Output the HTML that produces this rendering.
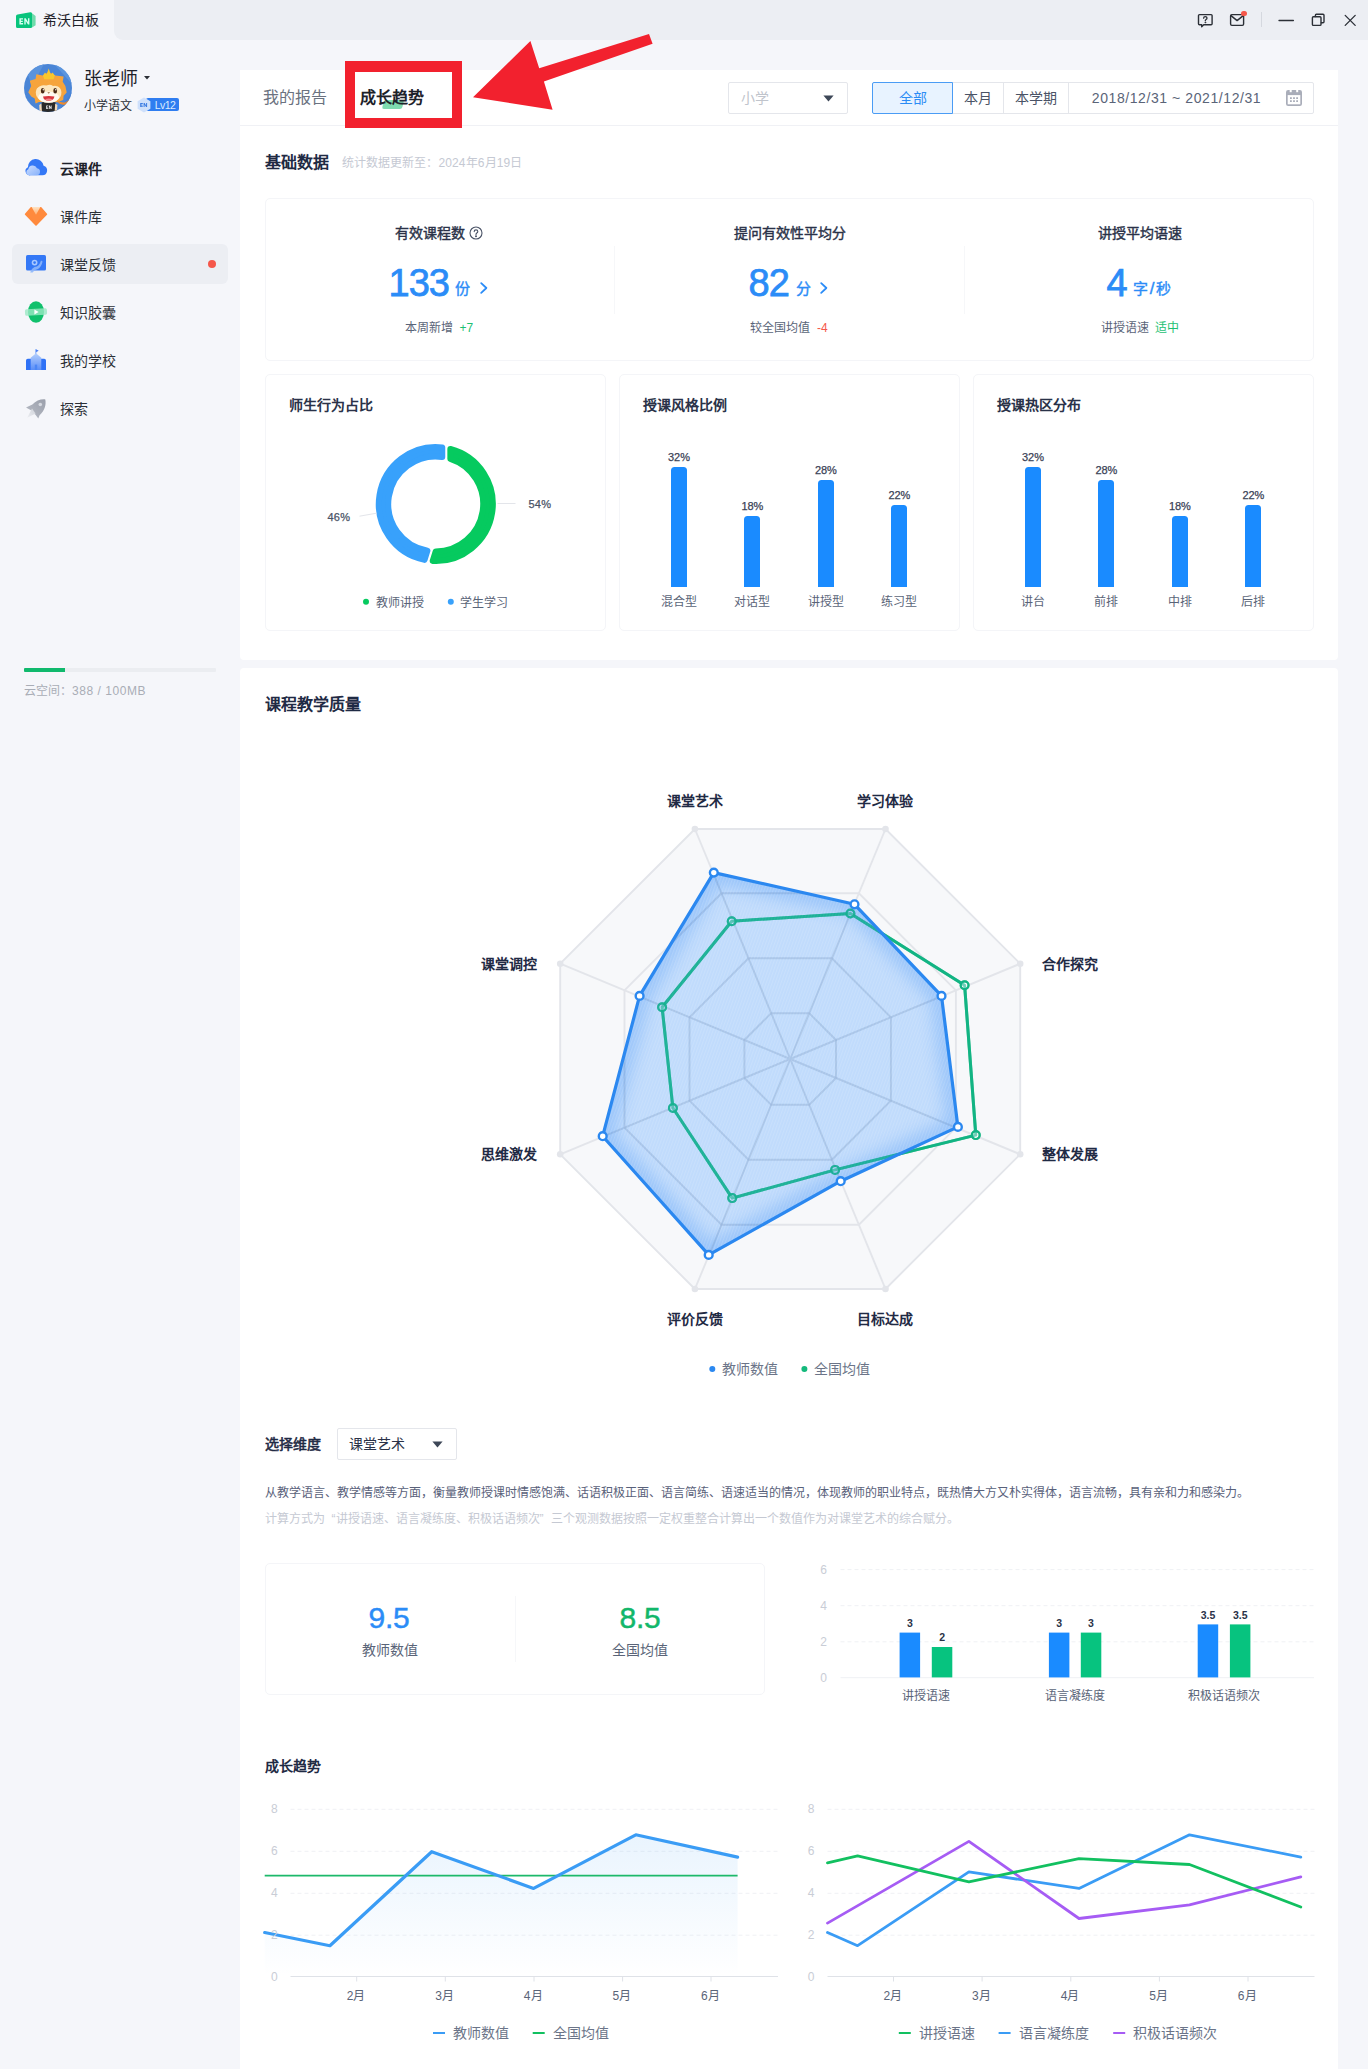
<!DOCTYPE html>
<html lang="zh-CN"><head><meta charset="utf-8"><title>希沃白板 - 成长趋势</title>
<style>
html,body{margin:0;padding:0}
body{width:1368px;height:2069px;position:relative;overflow:hidden;background:#f5f6fa;font-family:"Liberation Sans",sans-serif;color:#1f2329}
.t{position:absolute;white-space:nowrap;margin:0}
.b{position:absolute;box-sizing:border-box}
svg{position:absolute;overflow:visible}
.card{position:absolute;box-sizing:border-box;background:#fff;border:1px solid #f4f5f8;border-radius:5px}
.q{display:inline-block;width:11px}
.m{-webkit-text-stroke:.4px currentColor}
.n{-webkit-text-stroke:.75px currentColor}
</style></head><body>

<div class="b" style="left:0px;top:0px;width:1368px;height:40px;background:#eceef3"></div>
<div class="b" style="left:0px;top:0px;width:114px;height:40px;background:#f5f6fa"></div>
<div class="b" style="left:114px;top:30px;width:10px;height:10px;background:#f5f6fa"></div>
<div class="b" style="left:114px;top:20px;width:20px;height:20px;background:#eceef3;border-radius:0 0 0 9px"></div>
<svg style="left:16px;top:11px" width="20" height="18" viewBox="0 0 20 18">
<path d="M0 5.2Q0 3.6 1.6 3.4L14.2 1.2Q15.6 1 16 2.2V16Q16 17 15 17H1.5Q0 17 0 15.5Z" fill="#08c47c"/>
<path d="M16 2.2L19.6 5V14.2L16 16.4Z" fill="#6fdbab"/>
<path d="M3.4 7.3h3.6v1.3H4.9v1.1h1.9v1.2H4.9v1.2h2.2v1.3H3.4zM8.3 7.3h1.4l2.3 3.6V7.3h1.4v6.1h-1.4L9.7 9.9v3.5H8.3z" fill="#d6fff0"/>
</svg>
<div class="t" style="left:43.0px;top:9.0px;font-size:14px;line-height:22px;color:#1d2129;font-weight:500;">希沃白板</div>
<svg style="left:1190px;top:8px" width="172" height="24" viewBox="1190 8 172 24" fill="none" stroke="#2b2f36" stroke-width="1.4" stroke-linejoin="round" stroke-linecap="round">
<path d="M1199.5 14.6h11.6q1 0 1 1v8.2q0 1-1 1h-7.4l-2 2v-2h-2.2q-1 0-1-1v-8.2q0-1 1-1z"/>
<path d="M1203.6 18.2q0-1.5 1.7-1.5t1.7 1.4q0 .9-.9 1.4-.8.5-.8 1.3" stroke-width="1.3"/><circle cx="1205.3" cy="22.6" r=".5" fill="#2b2f36" stroke-width=".6"/>
<rect x="1230.6" y="14.6" width="13" height="10.8" rx="1.3"/><path d="M1231 15.6l6.1 5 6.1-5"/>
<path d="M1279 20.5h14.4" stroke-width="1.3"/>
<rect x="1312.4" y="16.8" width="8.6" height="8.6" rx="1"/><path d="M1315.4 16.6v-1.4q0-1 1-1h6.6q1 0 1 1v6.6q0 1-1 1h-1.6"/>
<path d="M1345.2 15.4l10 10M1355.2 15.4l-10 10" stroke-width="1.3"/>
</svg>
<div class="b" style="left:1261px;top:12px;width:1px;height:15px;background:#d5d8df"></div>
<div class="b" style="left:1241.2px;top:10.5px;width:5.8px;height:5.8px;background:#f5574a;border-radius:50%"></div>
<svg style="left:24px;top:64px" width="48" height="48" viewBox="0 0 48 48">
<defs><clipPath id="av"><circle cx="24" cy="24" r="24"/></clipPath></defs>
<g clip-path="url(#av)">
<rect width="48" height="48" fill="#4a85d6"/>
<path d="M0 0L20 0 8 22Z" fill="#5a93dd"/><path d="M30 0L48 0 48 20Z" fill="#5b95de"/><path d="M0 30L10 48 0 48Z" fill="#427cd0"/><path d="M48 28L48 48 34 48Z" fill="#447fd2"/>
<path d="M4.3 28.2L7.2 22.1 5.8 16.8 11.5 15 12.4 10.2 18.6 11.5 24.7 8 31.3 11.5 39.6 12.4 38.7 17.7 41.4 22.1 42.7 28.6 39.6 31.7 39.2 36.1 33.5 38.3 15 37.9 11.5 39.6 10.7 34.4 7.2 32.6Z" fill="#f6a43c"/>
<path d="M33 36.5Q38 39.5 42 38Q45 36.5 46 34L47 38Q43 41.5 38 40.5Q34 39.5 33 36.5Z" fill="#f08a2a"/>
<path d="M17.6 38.4Q24 36.4 31.6 38.4L32.6 48H16.6Z" fill="#2a2a2a"/>
<path d="M15.2 41l2.2-1.6.6 8.6h-2.4zM33.4 41l-2.2-1.6-.6 8.6h2.4z" fill="#f3d9b8"/>
<ellipse cx="24.6" cy="28.6" rx="12.8" ry="10.2" fill="#fde6bd"/>
<path d="M12 25Q13 17 24.6 17.4Q36.5 17.4 37.4 25Q33 20.6 29 22 26 19.6 22.5 21.6 17 20 12 25Z" fill="#f6a43c"/>
<ellipse cx="24.6" cy="33.2" rx="10.4" ry="5.6" fill="#fff9ef"/>
<path d="M19 11.6L21 8.6 22.6 10.6 24.7 4.6 26.8 10.6 28.6 8.6 30.8 11.6 29.6 15.2H20.2Z" fill="#f9c72c"/>
<ellipse cx="18.7" cy="26.7" rx="1.9" ry="2.7" fill="#4a2a14"/><ellipse cx="31.2" cy="26.7" rx="1.9" ry="2.7" fill="#4a2a14"/>
<circle cx="19.3" cy="25.7" r=".7" fill="#fff"/><circle cx="31.8" cy="25.7" r=".7" fill="#fff"/>
<path d="M23.4 28.2h2.6l-1.3 1.5z" fill="#9a6a38"/>
<path d="M19 32.4Q24.7 31.4 30.4 32.4Q29.6 36.8 24.7 36.8T19 32.4Z" fill="#d8353c"/>
<path d="M21 35.2Q24.7 33.8 28.4 35.2Q27 36.8 24.7 36.8T21 35.2Z" fill="#f4868a"/>
<path d="M22.2 41.6h2v.7h-1.2v.6h1v.7h-1v.6h1.2v.7h-2zM24.9 41.6h.8l1.1 1.9v-1.9h.8v3.3h-.8l-1.1-1.9v1.9h-.8z" fill="#eee"/>
</g></svg>
<div class="t" style="left:84.0px;top:65.5px;font-size:18px;line-height:26px;color:#1d2129;">张老师</div>
<svg style="left:143.5px;top:75.5px" width="6" height="4" viewBox="0 0 6 4"><path d="M0 0h6L3 3.6z" fill="#2b2f36"/></svg>
<div class="t" style="left:84.0px;top:95.5px;font-size:12px;line-height:20px;color:#2b2f36;">小学语文</div>
<div class="b" style="left:146px;top:98px;width:33px;height:13px;background:#2f7df0;border-radius:2px"></div>
<svg style="left:136px;top:97px" width="16" height="16" viewBox="0 0 16 16"><path d="M8 .6l6.4 3.7v7.4L8 15.4 1.6 11.7V4.3z" fill="#cfe0fb"/>
<path d="M4.2 6.1h2.6v.9H5.3v.7h1.3v.8H5.3v.7h1.5v.9H4.2zM7.6 6.1h1l1.5 2.3V6.1h1v4h-1L8.600 7.800v2.300h-1z" fill="#3a7be2"/></svg>
<div class="t" style="left:154.7px;top:98.9px;font-size:10.5px;line-height:13px;color:#dcecff;letter-spacing:-.55px;">Lv12</div>
<div class="b" style="left:12px;top:244px;width:216px;height:40px;background:#eceef3;border-radius:6px"></div>
<div class="t" style="left:60.0px;top:157.9px;font-size:14px;line-height:22px;color:#1d2129;font-weight:700;">云课件</div>
<div class="t" style="left:60.0px;top:206.0px;font-size:14px;line-height:22px;color:#2b2f36;">课件库</div>
<div class="t" style="left:60.0px;top:254.0px;font-size:14px;line-height:22px;color:#2b2f36;">课堂反馈</div>
<div class="t" style="left:60.0px;top:302.0px;font-size:14px;line-height:22px;color:#2b2f36;">知识胶囊</div>
<div class="t" style="left:60.0px;top:350.0px;font-size:14px;line-height:22px;color:#2b2f36;">我的学校</div>
<div class="t" style="left:60.0px;top:398.0px;font-size:14px;line-height:22px;color:#2b2f36;">探索</div>
<div class="b" style="left:208.3px;top:260px;width:8px;height:8px;background:#f5574a;border-radius:50%"></div>
<svg style="left:24px;top:155px" width="24" height="24" viewBox="0 0 24 24">
<defs><linearGradient id="cl1" x1="0" y1="0" x2="1" y2="1"><stop offset="0" stop-color="#d9e6ff"/><stop offset="1" stop-color="#8db6fb"/></linearGradient></defs>
<path d="M6.500 20.300H18.400A4.900 4.900 0 0 0 19.600 10.700 7.900 7.900 0 0 0 3.900 12.200 4.300 4.300 0 0 0 6.500 20.300Z" fill="#3478f6"/>
<path d="M5 20.300h7.500a3.600 3.600 0 0 0 .5-7.150 4.600 4.600 0 0 0-8.700 1A3.200 3.200 0 0 0 5 20.300z" fill="url(#cl1)" opacity=".92"/></svg>
<svg style="left:24px;top:204px" width="24" height="24" viewBox="0 0 24 24">
<path d="M7.200 3.700h9.600L22.400 10.300 12 21 1.600 10.300z" fill="#ff8a3d" stroke="#ff8a3d" stroke-width="1.600" stroke-linejoin="round"/>
<defs><linearGradient id="dm" x1="0" y1="0" x2="0" y2="1"><stop offset="0" stop-color="#ffe3c4"/><stop offset="1" stop-color="#ffb073"/></linearGradient></defs><path d="M7.600 3h8.800L12 10.800z" fill="url(#dm)"/></svg>
<svg style="left:24px;top:252px" width="24" height="24" viewBox="0 0 24 24">
<rect x="2" y="3" width="20" height="15.600" rx="1.6" fill="#3478f6"/>
<circle cx="10.600" cy="10.600" r="2.900" fill="#a8c8ff"/><circle cx="10.600" cy="10.600" r="1.300" fill="#3478f6"/>
<path d="M6.200 20.400Q8 15 12.800 14.600Q15.400 13.600 17 8.600L18.600 9.600Q17.400 15 14 17Q10 17.600 8.600 20.400Z" fill="#8db6fb" opacity=".9"/></svg>
<svg style="left:24px;top:300px" width="24" height="24" viewBox="0 0 24 24">
<ellipse cx="12" cy="12" rx="8" ry="10.800" fill="#10c06c"/>
<rect x="1" y="8.800" width="22" height="6.400" rx="1.600" fill="#9be8c4" opacity=".8" transform="rotate(-3 12 12)"/>
<path d="M10.400 9.600l4.200 2.400-4.200 2.400z" fill="#fff"/></svg>
<svg style="left:24px;top:348px" width="24" height="24" viewBox="0 0 24 24">
<defs><linearGradient id="sc" x1="0" y1="0" x2="0" y2="1"><stop offset="0" stop-color="#b4cffd"/><stop offset="1" stop-color="#5a8ef7"/></linearGradient></defs>
<path d="M11.900 1.200l2.800 1.500-2.800 1.500z" fill="#3f78f3"/><rect x="11.400" y="1.200" width=".9" height="5" fill="#6f9df8"/>
<path d="M2 12.600q0-1.800 1.800-1.800h3.400v11.200H2zM22 12.600q0-1.800-1.800-1.800H16.800v11.200H22z" fill="#2f72f6"/>
<path d="M6.700 22V9.800L12 5.300l5.300 4.500V22z" fill="url(#sc)"/>
<rect x="10.800" y="16.600" width="2.400" height="5.400" fill="#4b86f5"/></svg>
<svg style="left:24px;top:396px" width="24" height="24" viewBox="0 0 24 24">
<defs><linearGradient id="rk" x1="1" y1="0" x2="0" y2="1"><stop offset="0" stop-color="#9a9fab"/><stop offset="1" stop-color="#b9bdc6"/></linearGradient>
<linearGradient id="rf" x1="1" y1="0" x2="0" y2="1"><stop offset="0" stop-color="#cfd2d9"/><stop offset="1" stop-color="#eceef2"/></linearGradient></defs>
<path d="M21.300 3.400C22.400 9 20.500 14.500 15.600 19.200L14.300 22.400 11.300 18.400C9.500 17.600 8.200 16.200 7.400 14.400L2 11.400 8.400 8.600C12 4.600 16.500 3 21.300 3.400Z" fill="url(#rk)"/>
<path d="M8 12.600L3.200 21.800 11.600 17.400Z" fill="url(#rf)"/>
<circle cx="16.300" cy="8.500" r="1.800" fill="#d6d9e0"/></svg>
<div class="b" style="left:24px;top:668px;width:192px;height:4px;background:#ebedf1;border-radius:1px"></div>
<div class="b" style="left:24px;top:668px;width:41px;height:4px;background:#10b96d;border-radius:1px 0 0 1px"></div>
<div class="t" style="left:24.0px;top:681.0px;font-size:12px;line-height:20px;color:#a9adb6;">云空间：<span style="letter-spacing:.55px">388 / 100MB</span></div>
<div class="b" style="left:240px;top:70px;width:1098px;height:590px;background:#fff;border-radius:0 0 4px 4px"></div>
<div class="b" style="left:240px;top:125px;width:1098px;height:1px;background:#f0f1f5"></div>
<div class="t" style="left:263.3px;top:86.0px;font-size:16px;line-height:24px;color:#6b7280;">我的报告</div>
<div class="b" style="left:383px;top:100px;width:20px;height:9px;background:#7fdcb0;border-radius:2px;transform:skewX(-14deg)"></div>
<div class="t" style="left:360.3px;top:86.0px;font-size:16px;line-height:24px;color:#1d2129;font-weight:700;">成长趋势</div>
<div class="b" style="left:345px;top:61px;width:116.6px;height:66.8px;border:10.5px solid #f2212e;border-top-width:11px"></div>
<svg style="left:0;top:0" width="1368" height="140" viewBox="0 0 1368 140">
<path d="M473 97.200L530.400 41 539.200 68.200 649 34 652.600 43.700 543.900 81.400 552.600 109.800Z" fill="#f2212e"/></svg>
<div class="b" style="left:728px;top:82px;width:120px;height:32px;background:#fff;border:1px solid #e4e6eb;border-radius:2px"></div>
<div class="t" style="left:740.5px;top:87.0px;font-size:14px;line-height:22px;color:#c0c4cc;">小学</div>
<svg style="left:823px;top:95px" width="11" height="7" viewBox="0 0 11 7"><path d="M.4 .6h10.200L5.500 6.400z" fill="#3d4757"/></svg>
<div class="b" style="left:872px;top:82px;width:442px;height:32px;background:#fff;border:1px solid #e4e6eb;border-radius:2px"></div>
<div class="b" style="left:872px;top:82px;width:81px;height:32px;background:#e8f3ff;border:1px solid #4a9cf5;border-radius:2px 0 0 2px"></div>
<div class="t" style="left:912.5px;top:87.0px;font-size:14px;line-height:22px;color:#2b8cf5;transform:translateX(-50%);">全部</div>
<div class="t" style="left:978.0px;top:87.0px;font-size:14px;line-height:22px;color:#4a5366;transform:translateX(-50%);">本月</div>
<div class="b" style="left:1003px;top:83px;width:1px;height:30px;background:#e4e6eb"></div>
<div class="t" style="left:1036.0px;top:87.0px;font-size:14px;line-height:22px;color:#4a5366;transform:translateX(-50%);">本学期</div>
<div class="b" style="left:1068px;top:83px;width:1px;height:30px;background:#e4e6eb"></div>
<div class="t" style="left:1176.5px;top:87.0px;font-size:14px;line-height:22px;color:#5a6478;transform:translateX(-50%);letter-spacing:.58px;">2018/12/31 ~ 2021/12/31</div>
<svg style="left:1286.200px;top:89.800px" width="16" height="16" viewBox="0 0 16 16">
<rect width="16" height="16" rx="2.200" fill="#a9adb9"/><rect x="3.700" y="-.5" width="2" height="2.700" fill="#fff"/><rect x="10.200" y="-.5" width="2" height="2.700" fill="#fff"/>
<rect x="1.700" y="5.100" width="12.600" height="9.200" fill="#fff"/>
<path d="M4 7.300h1.800v1.700H4zM7.100 7.300h1.800v1.700H7.100zM10.200 7.300H12v1.700h-1.800zM4 10.300h1.800V12H4zM7.100 10.300h1.800V12H7.100zM10.200 10.300H12V12h-1.800z" fill="#a9adb9"/></svg>
<div class="t" style="left:264.5px;top:151.3px;font-size:16px;line-height:24px;color:#1f2a44;font-weight:700;">基础数据</div>
<div class="t" style="left:341.5px;top:152.7px;font-size:12px;line-height:20px;color:#c5c9d3;letter-spacing:.12px;">统计数据更新至：2024年6月19日</div>
<div class="card" style="left:265px;top:198px;width:1049px;height:163px"></div>
<div class="b" style="left:614px;top:246px;width:1px;height:68px;background:#f6f7f9"></div>
<div class="b" style="left:964px;top:246px;width:1px;height:68px;background:#f6f7f9"></div>
<div class="t m" style="left:394.5px;top:222.0px;font-size:14px;line-height:22px;color:#2a3248;">有效课程数</div>
<svg style="left:469px;top:226px" width="14" height="14" viewBox="0 0 14 14" fill="none" stroke="#4a5366" stroke-width="1.100"><circle cx="7" cy="7" r="6"/>
<path d="M5.200 5.600q0-1.700 1.800-1.700t1.800 1.600q0 1-1 1.500-.8.500-.8 1.400" stroke-linecap="round"/><circle cx="7" cy="10.300" r=".45" fill="#4a5366"/></svg>
<div class="t n" style="left:388.5px;top:262.6px;font-size:38px;line-height:40px;color:#2b8cf7;letter-spacing:-1px;-webkit-text-stroke-width:.75px;">133</div>
<div class="t m" style="left:455.3px;top:276.5px;font-size:15px;line-height:23px;color:#2b8cf7;">份</div>
<svg style="left:480px;top:282px" width="8" height="12" viewBox="0 0 8 12" fill="none" stroke="#2b8cf7" stroke-width="1.800" stroke-linecap="round" stroke-linejoin="round"><path d="M1.200 1.200L6.400 6 1.200 10.800"/></svg>
<div class="t" style="left:404.5px;top:318.0px;font-size:12px;line-height:20px;color:#5a6478;">本周新增</div>
<div class="t" style="left:459.5px;top:318.0px;font-size:12px;line-height:20px;color:#1dbf73;font-weight:500;">+7</div>
<div class="t m" style="left:789.5px;top:222.0px;font-size:14px;line-height:22px;color:#2a3248;transform:translateX(-50%);">提问有效性平均分</div>
<div class="t n" style="left:748.5px;top:262.6px;font-size:38px;line-height:40px;color:#2b8cf7;letter-spacing:-1px;-webkit-text-stroke-width:.75px;">82</div>
<div class="t m" style="left:795.6px;top:276.5px;font-size:15px;line-height:23px;color:#2b8cf7;">分</div>
<svg style="left:820px;top:282px" width="8" height="12" viewBox="0 0 8 12" fill="none" stroke="#2b8cf7" stroke-width="1.800" stroke-linecap="round" stroke-linejoin="round"><path d="M1.200 1.200L6.400 6 1.200 10.800"/></svg>
<div class="t" style="left:749.5px;top:318.0px;font-size:12px;line-height:20px;color:#5a6478;">较全国均值</div>
<div class="t" style="left:817.0px;top:318.0px;font-size:12px;line-height:20px;color:#f5574a;font-weight:500;">-4</div>
<div class="t m" style="left:1139.5px;top:222.0px;font-size:14px;line-height:22px;color:#2a3248;transform:translateX(-50%);">讲授平均语速</div>
<div class="t n" style="left:1106.5px;top:262.6px;font-size:38px;line-height:40px;color:#2b8cf7;-webkit-text-stroke-width:.75px;">4</div>
<div class="t m" style="left:1133.0px;top:276.5px;font-size:15px;line-height:23px;color:#2b8cf7;">字<span style="padding:0 1.800px;font-size:17px;line-height:10px">/</span>秒</div>
<div class="t" style="left:1101.0px;top:318.0px;font-size:12px;line-height:20px;color:#5a6478;">讲授语速</div>
<div class="t" style="left:1155.0px;top:318.0px;font-size:12px;line-height:20px;color:#1dbf73;font-weight:500;">适中</div>
<div class="card" style="left:265px;top:374px;width:341px;height:257px"></div>
<div class="card" style="left:619px;top:374px;width:341px;height:257px"></div>
<div class="card" style="left:973px;top:374px;width:341px;height:257px"></div>
<div class="t" style="left:288.5px;top:394.0px;font-size:14px;line-height:22px;color:#2a3248;font-weight:700;">师生行为占比</div>
<div class="t" style="left:642.5px;top:394.0px;font-size:14px;line-height:22px;color:#2a3248;font-weight:700;">授课风格比例</div>
<div class="t" style="left:996.5px;top:394.0px;font-size:14px;line-height:22px;color:#2a3248;font-weight:700;">授课热区分布</div>
<svg style="left:265px;top:374px" width="341" height="257" viewBox="265 374 341 257">
<path d="M450.35 448.89A57.0 57.0 0 0 1 432.71 560.92L435.69 551.40A47.4 47.4 0 0 0 450.35 458.89Z" fill="#06ca5f" stroke="#06ca5f" stroke-width="6.0" stroke-linejoin="round"/>
<path d="M424.54 559.88A57.0 57.0 0 0 1 442.25 447.37L442.25 457.04A47.4 47.4 0 0 0 427.43 550.66Z" fill="#38a1fb" stroke="#38a1fb" stroke-width="6.0" stroke-linejoin="round"/>
<path d="M497.500 503.500H515.500M376.500 513.200L359.500 516.200" stroke="#e3e5ea" stroke-width="1" fill="none"/>
<circle cx="366" cy="601.700" r="3" fill="#06ca5f"/><circle cx="450.800" cy="601.700" r="3" fill="#38a1fb"/>
</svg>
<div class="t" style="left:528.5px;top:497.0px;font-size:11px;line-height:14px;color:#4a5366;-webkit-text-stroke:.25px currentColor;letter-spacing:.2px;">54%</div>
<div class="t" style="left:327.5px;top:510.3px;font-size:11px;line-height:14px;color:#4a5366;-webkit-text-stroke:.25px currentColor;letter-spacing:.2px;">46%</div>
<div class="t" style="left:376.0px;top:592.6px;font-size:12px;line-height:20px;color:#5a6478;">教师讲授</div>
<div class="t" style="left:460.2px;top:592.6px;font-size:12px;line-height:20px;color:#5a6478;">学生学习</div>
<div class="b" style="left:671px;top:467px;width:16px;height:119.6px;background:#1a8bff;border-radius:3.5px 3.5px 0 0"></div>
<div class="t" style="left:679.0px;top:450.0px;font-size:11px;line-height:14px;color:#3a4256;transform:translateX(-50%);-webkit-text-stroke:.25px currentColor;">32%</div>
<div class="t" style="left:679.0px;top:592.2px;font-size:12px;line-height:20px;color:#5a6478;transform:translateX(-50%);">混合型</div>
<div class="b" style="left:744.4px;top:516.2px;width:16px;height:70.4px;background:#1a8bff;border-radius:3.5px 3.5px 0 0"></div>
<div class="t" style="left:752.4px;top:499.2px;font-size:11px;line-height:14px;color:#3a4256;transform:translateX(-50%);-webkit-text-stroke:.25px currentColor;">18%</div>
<div class="t" style="left:752.4px;top:592.2px;font-size:12px;line-height:20px;color:#5a6478;transform:translateX(-50%);">对话型</div>
<div class="b" style="left:817.9px;top:480.3px;width:16px;height:106.3px;background:#1a8bff;border-radius:3.5px 3.5px 0 0"></div>
<div class="t" style="left:825.9px;top:463.3px;font-size:11px;line-height:14px;color:#3a4256;transform:translateX(-50%);-webkit-text-stroke:.25px currentColor;">28%</div>
<div class="t" style="left:825.9px;top:592.2px;font-size:12px;line-height:20px;color:#5a6478;transform:translateX(-50%);">讲授型</div>
<div class="b" style="left:891.4px;top:505px;width:16px;height:81.6px;background:#1a8bff;border-radius:3.5px 3.5px 0 0"></div>
<div class="t" style="left:899.4px;top:488.0px;font-size:11px;line-height:14px;color:#3a4256;transform:translateX(-50%);-webkit-text-stroke:.25px currentColor;">22%</div>
<div class="t" style="left:899.4px;top:592.2px;font-size:12px;line-height:20px;color:#5a6478;transform:translateX(-50%);">练习型</div>
<div class="b" style="left:1025px;top:467px;width:16px;height:119.6px;background:#1a8bff;border-radius:3.5px 3.5px 0 0"></div>
<div class="t" style="left:1033.0px;top:450.0px;font-size:11px;line-height:14px;color:#3a4256;transform:translateX(-50%);-webkit-text-stroke:.25px currentColor;">32%</div>
<div class="t" style="left:1033.0px;top:592.2px;font-size:12px;line-height:20px;color:#5a6478;transform:translateX(-50%);">讲台</div>
<div class="b" style="left:1098.4px;top:480.3px;width:16px;height:106.3px;background:#1a8bff;border-radius:3.5px 3.5px 0 0"></div>
<div class="t" style="left:1106.4px;top:463.3px;font-size:11px;line-height:14px;color:#3a4256;transform:translateX(-50%);-webkit-text-stroke:.25px currentColor;">28%</div>
<div class="t" style="left:1106.4px;top:592.2px;font-size:12px;line-height:20px;color:#5a6478;transform:translateX(-50%);">前排</div>
<div class="b" style="left:1171.9px;top:516.2px;width:16px;height:70.4px;background:#1a8bff;border-radius:3.5px 3.5px 0 0"></div>
<div class="t" style="left:1179.9px;top:499.2px;font-size:11px;line-height:14px;color:#3a4256;transform:translateX(-50%);-webkit-text-stroke:.25px currentColor;">18%</div>
<div class="t" style="left:1179.9px;top:592.2px;font-size:12px;line-height:20px;color:#5a6478;transform:translateX(-50%);">中排</div>
<div class="b" style="left:1245.4px;top:505px;width:16px;height:81.6px;background:#1a8bff;border-radius:3.5px 3.5px 0 0"></div>
<div class="t" style="left:1253.4px;top:488.0px;font-size:11px;line-height:14px;color:#3a4256;transform:translateX(-50%);-webkit-text-stroke:.25px currentColor;">22%</div>
<div class="t" style="left:1253.4px;top:592.2px;font-size:12px;line-height:20px;color:#5a6478;transform:translateX(-50%);">后排</div>
<div class="b" style="left:240px;top:668px;width:1098px;height:1410px;background:#fff;border-radius:4px"></div>
<div class="t" style="left:264.5px;top:692.5px;font-size:16px;line-height:24px;color:#1f2a44;font-weight:700;">课程教学质量</div>
<svg style="left:0;top:760px" width="1368" height="640" viewBox="0 760 1368 640">
<defs><clipPath id="rc"><polygon points="713.8,872.6 854.5,904.3 941.5,995.9 957.9,1126.9 840.7,1181.2 708.7,1254.9 602.7,1136.2 639.6,995.9"/></clipPath>
<filter id="rb" x="-20%" y="-20%" width="140%" height="140%"><feGaussianBlur stdDeviation="8"/></filter>
<pattern id="rh" width="2.800" height="8" patternUnits="userSpaceOnUse" patternTransform="rotate(20)"><rect width="1.100" height="8" fill="#fff" fill-opacity=".13"/></pattern></defs>
<polygon points="694.9,829.0 885.5,829.0 1020.2,963.7 1020.2,1154.3 885.5,1289.0 694.9,1289.0 560.2,1154.3 560.2,963.7" fill="#f7f8fa"/>
<polygon points="771.2,1013.2 809.2,1013.2 836.0,1040.0 836.0,1078.0 809.2,1104.8 771.2,1104.8 744.4,1078.0 744.4,1040.0" fill="none" stroke="#e3e5ea" stroke-width="1.900"/>
<polygon points="748.5,958.3 831.9,958.3 890.9,1017.3 890.9,1100.7 831.9,1159.7 748.5,1159.7 689.5,1100.7 689.5,1017.3" fill="none" stroke="#e3e5ea" stroke-width="1.900"/>
<polygon points="721.5,893.3 858.9,893.3 955.9,990.3 955.9,1127.7 858.9,1224.7 721.5,1224.7 624.5,1127.7 624.5,990.3" fill="none" stroke="#e3e5ea" stroke-width="1.900"/>
<polygon points="694.9,829.0 885.5,829.0 1020.2,963.7 1020.2,1154.3 885.5,1289.0 694.9,1289.0 560.2,1154.3 560.2,963.7" fill="none" stroke="#e3e5ea" stroke-width="1.900"/>
<path d="M790.2 1059L694.9 829.0" stroke="#e3e5ea" stroke-width="1.900"/>
<circle cx="694.9" cy="829.0" r="3.300" fill="#e3e5ea"/>
<path d="M790.2 1059L885.5 829.0" stroke="#e3e5ea" stroke-width="1.900"/>
<circle cx="885.5" cy="829.0" r="3.300" fill="#e3e5ea"/>
<path d="M790.2 1059L1020.2 963.7" stroke="#e3e5ea" stroke-width="1.900"/>
<circle cx="1020.2" cy="963.7" r="3.300" fill="#e3e5ea"/>
<path d="M790.2 1059L1020.2 1154.3" stroke="#e3e5ea" stroke-width="1.900"/>
<circle cx="1020.2" cy="1154.3" r="3.300" fill="#e3e5ea"/>
<path d="M790.2 1059L885.5 1289.0" stroke="#e3e5ea" stroke-width="1.900"/>
<circle cx="885.5" cy="1289.0" r="3.300" fill="#e3e5ea"/>
<path d="M790.2 1059L694.9 1289.0" stroke="#e3e5ea" stroke-width="1.900"/>
<circle cx="694.9" cy="1289.0" r="3.300" fill="#e3e5ea"/>
<path d="M790.2 1059L560.2 1154.3" stroke="#e3e5ea" stroke-width="1.900"/>
<circle cx="560.2" cy="1154.3" r="3.300" fill="#e3e5ea"/>
<path d="M790.2 1059L560.2 963.7" stroke="#e3e5ea" stroke-width="1.900"/>
<circle cx="560.2" cy="963.7" r="3.300" fill="#e3e5ea"/>
<polygon points="731.7,921.2 850.4,913.5 964.6,985.2 975.8,1135.1 835.1,1169.9 732.2,1198.1 672.9,1108 662.1,1007.2" fill="none" stroke="#12b879" stroke-width="3" stroke-linejoin="round"/>
<circle cx="731.7" cy="921.2" r="3.900" fill="#fff" stroke="#12b879" stroke-width="2.200"/>
<circle cx="850.4" cy="913.5" r="3.900" fill="#fff" stroke="#12b879" stroke-width="2.200"/>
<circle cx="964.6" cy="985.2" r="3.900" fill="#fff" stroke="#12b879" stroke-width="2.200"/>
<circle cx="975.8" cy="1135.1" r="3.900" fill="#fff" stroke="#12b879" stroke-width="2.200"/>
<circle cx="835.1" cy="1169.9" r="3.900" fill="#fff" stroke="#12b879" stroke-width="2.200"/>
<circle cx="732.2" cy="1198.1" r="3.900" fill="#fff" stroke="#12b879" stroke-width="2.200"/>
<circle cx="672.9" cy="1108" r="3.900" fill="#fff" stroke="#12b879" stroke-width="2.200"/>
<circle cx="662.1" cy="1007.2" r="3.900" fill="#fff" stroke="#12b879" stroke-width="2.200"/>
<polygon points="713.8,872.6 854.5,904.3 941.5,995.9 957.9,1126.9 840.7,1181.2 708.7,1254.9 602.7,1136.2 639.6,995.9" fill="#5fa8ff" fill-opacity=".36"/>
<g clip-path="url(#rc)"><polygon points="713.8,872.6 854.5,904.3 941.5,995.9 957.9,1126.9 840.7,1181.2 708.7,1254.9 602.7,1136.2 639.6,995.9" fill="none" stroke="#3b8ef6" stroke-width="22" stroke-linejoin="round" filter="url(#rb)" opacity=".3"/><polygon points="713.8,872.6 854.5,904.3 941.5,995.9 957.9,1126.9 840.7,1181.2 708.7,1254.9 602.7,1136.2 639.6,995.9" fill="url(#rh)"/></g>
<polygon points="771.2,1013.2 809.2,1013.2 836.0,1040.0 836.0,1078.0 809.2,1104.8 771.2,1104.8 744.4,1078.0 744.4,1040.0" fill="none" stroke="#2a4680" stroke-opacity=".07" stroke-width="1.900" clip-path="url(#rc)"/>
<polygon points="748.5,958.3 831.9,958.3 890.9,1017.3 890.9,1100.7 831.9,1159.7 748.5,1159.7 689.5,1100.7 689.5,1017.3" fill="none" stroke="#2a4680" stroke-opacity=".07" stroke-width="1.900" clip-path="url(#rc)"/>
<polygon points="721.5,893.3 858.9,893.3 955.9,990.3 955.9,1127.7 858.9,1224.7 721.5,1224.7 624.5,1127.7 624.5,990.3" fill="none" stroke="#2a4680" stroke-opacity=".07" stroke-width="1.900" clip-path="url(#rc)"/>
<path d="M790.2 1059L694.9 829.0M790.2 1059L885.5 829.0M790.2 1059L1020.2 963.7M790.2 1059L1020.2 1154.3M790.2 1059L885.5 1289.0M790.2 1059L694.9 1289.0M790.2 1059L560.2 1154.3M790.2 1059L560.2 963.7" stroke="#2a4680" stroke-opacity=".07" stroke-width="1.900" clip-path="url(#rc)"/>
<polygon points="731.7,921.2 850.4,913.5 964.6,985.2 975.8,1135.1 835.1,1169.9 732.2,1198.1 672.9,1108 662.1,1007.2" fill="none" stroke="#12b08a" stroke-opacity=".6" stroke-width="3" stroke-linejoin="round"/>
<circle cx="731.7" cy="921.2" r="3.900" fill="none" stroke="#12b08a" stroke-opacity=".6" stroke-width="2.200"/>
<circle cx="850.4" cy="913.5" r="3.900" fill="none" stroke="#12b08a" stroke-opacity=".6" stroke-width="2.200"/>
<circle cx="964.6" cy="985.2" r="3.900" fill="none" stroke="#12b08a" stroke-opacity=".6" stroke-width="2.200"/>
<circle cx="975.8" cy="1135.1" r="3.900" fill="none" stroke="#12b08a" stroke-opacity=".6" stroke-width="2.200"/>
<circle cx="835.1" cy="1169.9" r="3.900" fill="none" stroke="#12b08a" stroke-opacity=".6" stroke-width="2.200"/>
<circle cx="732.2" cy="1198.1" r="3.900" fill="none" stroke="#12b08a" stroke-opacity=".6" stroke-width="2.200"/>
<circle cx="672.9" cy="1108" r="3.900" fill="none" stroke="#12b08a" stroke-opacity=".6" stroke-width="2.200"/>
<circle cx="662.1" cy="1007.2" r="3.900" fill="none" stroke="#12b08a" stroke-opacity=".6" stroke-width="2.200"/>
<polygon points="713.8,872.6 854.5,904.3 941.5,995.9 957.9,1126.9 840.7,1181.2 708.7,1254.9 602.7,1136.2 639.6,995.9" fill="none" stroke="#2b88f0" stroke-width="3.200" stroke-linejoin="round"/>
<circle cx="713.8" cy="872.6" r="3.900" fill="#fff" stroke="#2b88f0" stroke-width="2.400"/>
<circle cx="854.5" cy="904.3" r="3.900" fill="#fff" stroke="#2b88f0" stroke-width="2.400"/>
<circle cx="941.5" cy="995.9" r="3.900" fill="#fff" stroke="#2b88f0" stroke-width="2.400"/>
<circle cx="957.9" cy="1126.9" r="3.900" fill="#fff" stroke="#2b88f0" stroke-width="2.400"/>
<circle cx="840.7" cy="1181.2" r="3.900" fill="#fff" stroke="#2b88f0" stroke-width="2.400"/>
<circle cx="708.7" cy="1254.9" r="3.900" fill="#fff" stroke="#2b88f0" stroke-width="2.400"/>
<circle cx="602.7" cy="1136.2" r="3.900" fill="#fff" stroke="#2b88f0" stroke-width="2.400"/>
<circle cx="639.6" cy="995.9" r="3.900" fill="#fff" stroke="#2b88f0" stroke-width="2.400"/>
<circle cx="712.300" cy="1369" r="3" fill="#2b88f0"/><circle cx="804.400" cy="1369" r="3" fill="#14b97c"/>
</svg>
<div class="t" style="left:694.9px;top:790.0px;font-size:14px;line-height:22px;color:#1f2a44;font-weight:700;transform:translateX(-50%);">课堂艺术</div>
<div class="t" style="left:885.2px;top:790.0px;font-size:14px;line-height:22px;color:#1f2a44;font-weight:700;transform:translateX(-50%);">学习体验</div>
<div class="t" style="left:1041.5px;top:952.6px;font-size:14px;line-height:22px;color:#1f2a44;font-weight:700;">合作探究</div>
<div class="t" style="left:1041.5px;top:1142.6px;font-size:14px;line-height:22px;color:#1f2a44;font-weight:700;">整体发展</div>
<div class="t" style="left:885.2px;top:1308.3px;font-size:14px;line-height:22px;color:#1f2a44;font-weight:700;transform:translateX(-50%);">目标达成</div>
<div class="t" style="left:694.9px;top:1308.3px;font-size:14px;line-height:22px;color:#1f2a44;font-weight:700;transform:translateX(-50%);">评价反馈</div>
<div class="t" style="left:536.5px;top:1142.6px;font-size:14px;line-height:22px;color:#1f2a44;font-weight:700;transform:translateX(-100%);">思维激发</div>
<div class="t" style="left:536.5px;top:952.6px;font-size:14px;line-height:22px;color:#1f2a44;font-weight:700;transform:translateX(-100%);">课堂调控</div>
<div class="t" style="left:721.5px;top:1358.0px;font-size:14px;line-height:22px;color:#6b7488;">教师数值</div>
<div class="t" style="left:813.6px;top:1358.0px;font-size:14px;line-height:22px;color:#6b7488;">全国均值</div>
<div class="t m" style="left:264.5px;top:1433.0px;font-size:14px;line-height:22px;color:#1f2a44;-webkit-text-stroke-width:.55px;">选择维度</div>
<div class="b" style="left:337px;top:1428px;width:120px;height:32px;background:#fff;border:1px solid #e4e6eb;border-radius:2px"></div>
<div class="t" style="left:349.3px;top:1433.0px;font-size:14px;line-height:22px;color:#2a3248;">课堂艺术</div>
<svg style="left:431.500px;top:1441px" width="11" height="7" viewBox="0 0 11 7"><path d="M.4 .6h10.200L5.500 6.400z" fill="#3d4757"/></svg>
<div class="t" style="left:264.5px;top:1483.3px;font-size:12px;line-height:20px;color:#59617a;">从教学语言、教学情感等方面，衡量教师授课时情感饱满、话语积极正面、语言简练、语速适当的情况，体现教师的职业特点，既热情大方又朴实得体，语言流畅，具有亲和力和感染力。</div>
<div class="t" style="left:264.5px;top:1509.3px;font-size:12px;line-height:20px;color:#c5c9d3;">计算方式为<span class="q" style="text-align:right">“</span>讲授语速、语言凝练度、积极话语频次<span class="q" style="text-align:left">”</span>三个观测数据按照一定权重整合计算出一个数值作为对课堂艺术的综合赋分。</div>
<div class="card" style="left:265px;top:1563px;width:500px;height:132px"></div>
<div class="b" style="left:515px;top:1596px;width:1px;height:66px;background:#f6f7f9"></div>
<div class="t n" style="left:389.0px;top:1601.0px;font-size:30px;line-height:34px;color:#2b8cf7;transform:translateX(-50%);letter-spacing:-.3px;-webkit-text-stroke-width:.45px;">9.5</div>
<div class="t" style="left:389.5px;top:1639.4px;font-size:14px;line-height:22px;color:#5a6478;transform:translateX(-50%);">教师数值</div>
<div class="t n" style="left:640.0px;top:1601.0px;font-size:30px;line-height:34px;color:#12b76a;transform:translateX(-50%);letter-spacing:-.3px;-webkit-text-stroke-width:.45px;">8.5</div>
<div class="t" style="left:640.0px;top:1639.4px;font-size:14px;line-height:22px;color:#5a6478;transform:translateX(-50%);">全国均值</div>
<svg style="left:804px;top:1560px" width="534" height="130" viewBox="804 1560 534 130">
<path d="M840.500 1569.6H1314" stroke="#eff1f4" stroke-width="1" stroke-dasharray="4 3"/>
<path d="M840.500 1605.7H1314" stroke="#eff1f4" stroke-width="1" stroke-dasharray="4 3"/>
<path d="M840.500 1641.8H1314" stroke="#eff1f4" stroke-width="1" stroke-dasharray="4 3"/>
<path d="M840.500 1677.700H1314" stroke="#eff1f4" stroke-width="1"/>
<rect x="899.6" y="1632.6" width="20.500" height="44.8" fill="#1a8bff"/>
<rect x="931.8" y="1647" width="20.500" height="30.4" fill="#07c37f"/>
<rect x="1048.9" y="1632.6" width="20.500" height="44.8" fill="#1a8bff"/>
<rect x="1080.8" y="1632.6" width="20.500" height="44.8" fill="#07c37f"/>
<rect x="1197.7" y="1624.4" width="20.500" height="53.0" fill="#1a8bff"/>
<rect x="1229.9" y="1624.4" width="20.500" height="53.0" fill="#07c37f"/>
</svg>
<div class="t" style="left:823.5px;top:1559.6px;font-size:12px;line-height:20px;color:#c9cdd6;transform:translateX(-50%);">6</div>
<div class="t" style="left:823.5px;top:1595.7px;font-size:12px;line-height:20px;color:#c9cdd6;transform:translateX(-50%);">4</div>
<div class="t" style="left:823.5px;top:1631.8px;font-size:12px;line-height:20px;color:#c9cdd6;transform:translateX(-50%);">2</div>
<div class="t" style="left:823.5px;top:1668.0px;font-size:12px;line-height:20px;color:#c9cdd6;transform:translateX(-50%);">0</div>
<div class="t" style="left:910.0px;top:1616.5px;font-size:10.5px;line-height:13px;color:#2a3248;font-weight:700;transform:translateX(-50%);">3</div>
<div class="t" style="left:942.1px;top:1630.5px;font-size:10.5px;line-height:13px;color:#2a3248;font-weight:700;transform:translateX(-50%);">2</div>
<div class="t" style="left:1059.2px;top:1616.5px;font-size:10.5px;line-height:13px;color:#2a3248;font-weight:700;transform:translateX(-50%);">3</div>
<div class="t" style="left:1091.0px;top:1616.5px;font-size:10.5px;line-height:13px;color:#2a3248;font-weight:700;transform:translateX(-50%);">3</div>
<div class="t" style="left:1208.0px;top:1608.5px;font-size:10.5px;line-height:13px;color:#2a3248;font-weight:700;transform:translateX(-50%);">3.5</div>
<div class="t" style="left:1240.2px;top:1608.5px;font-size:10.5px;line-height:13px;color:#2a3248;font-weight:700;transform:translateX(-50%);">3.5</div>
<div class="t" style="left:926.0px;top:1685.7px;font-size:12px;line-height:20px;color:#5a6478;transform:translateX(-50%);">讲授语速</div>
<div class="t" style="left:1075.0px;top:1685.7px;font-size:12px;line-height:20px;color:#5a6478;transform:translateX(-50%);">语言凝练度</div>
<div class="t" style="left:1223.7px;top:1685.7px;font-size:12px;line-height:20px;color:#5a6478;transform:translateX(-50%);">积极话语频次</div>
<div class="t" style="left:264.5px;top:1754.5px;font-size:14px;line-height:22px;color:#1f2a44;font-weight:700;">成长趋势</div>
<svg style="left:241px;top:1790px" width="1097" height="270" viewBox="241 1790 1097 270">
<defs><linearGradient id="ag" x1="0" y1="0" x2="0" y2="1"><stop offset="0" stop-color="#3a9cf5" stop-opacity=".11"/><stop offset="1" stop-color="#3a9cf5" stop-opacity="0"/></linearGradient></defs>
<path d="M290.500 1809.3H778M827.500 1809.3H1314.500" stroke="#eff1f4" stroke-width="1" stroke-dasharray="4 3"/>
<path d="M290.500 1851.3H778M827.500 1851.3H1314.500" stroke="#eff1f4" stroke-width="1" stroke-dasharray="4 3"/>
<path d="M290.500 1893.3H778M827.500 1893.3H1314.500" stroke="#eff1f4" stroke-width="1" stroke-dasharray="4 3"/>
<path d="M290.500 1935.2H778M827.500 1935.2H1314.500" stroke="#eff1f4" stroke-width="1" stroke-dasharray="4 3"/>
<path d="M290.500 1976.500H778M827.500 1976.500H1314.500" stroke="#dfe2e8" stroke-width="1"/>
<path d="M356.7 1976.500v5" stroke="#dfe2e8" stroke-width="1"/>
<path d="M445.3 1976.500v5" stroke="#dfe2e8" stroke-width="1"/>
<path d="M534 1976.500v5" stroke="#dfe2e8" stroke-width="1"/>
<path d="M622.6 1976.500v5" stroke="#dfe2e8" stroke-width="1"/>
<path d="M711 1976.500v5" stroke="#dfe2e8" stroke-width="1"/>
<path d="M893.5 1976.500v5" stroke="#dfe2e8" stroke-width="1"/>
<path d="M982.1 1976.500v5" stroke="#dfe2e8" stroke-width="1"/>
<path d="M1070.8 1976.500v5" stroke="#dfe2e8" stroke-width="1"/>
<path d="M1159.4 1976.500v5" stroke="#dfe2e8" stroke-width="1"/>
<path d="M1248 1976.500v5" stroke="#dfe2e8" stroke-width="1"/>
<polygon points="264.7,1932.5 329.9,1945.7 431.7,1851.7 533.6,1888.4 635.8,1834.8 737.6,1857.1 737.600,1976 264.700,1976" fill="url(#ag)"/>
<path d="M264.700 1875.600H737.600" stroke="#1db96a" stroke-width="1.800"/>
<polyline points="264.7,1932.5 329.9,1945.7 431.7,1851.7 533.6,1888.4 635.8,1834.8 737.6,1857.1" fill="none" stroke="#3a9cf5" stroke-width="3.200" stroke-linejoin="round" stroke-linecap="round"/>
<polyline points="827.5,1932.5 857.6,1945.7 968.9,1871.9 1079,1888.4 1189.5,1834.8 1300.8,1857.1" fill="none" stroke="#3a9cf5" stroke-width="2.800" stroke-linejoin="round" stroke-linecap="round"/>
<polyline points="827.5,1923.1 968.9,1841.4 1079,1918.5 1189.5,1904.9 1300.8,1876.9" fill="none" stroke="#a65cf4" stroke-width="2.800" stroke-linejoin="round" stroke-linecap="round"/>
<polyline points="827.5,1862.9 857.6,1855.9 968.9,1881.8 1079,1858.7 1189.5,1864.5 1300.8,1907" fill="none" stroke="#12c060" stroke-width="2.800" stroke-linejoin="round" stroke-linecap="round"/>
<path d="M433 2033h12" stroke="#3a9cf5" stroke-width="2"/>
<path d="M532.7 2033h12" stroke="#12c060" stroke-width="2"/>
<path d="M898.8 2033h12" stroke="#12c060" stroke-width="2"/>
<path d="M998.6 2033h12" stroke="#3a9cf5" stroke-width="2"/>
<path d="M1113.2 2033h12" stroke="#a65cf4" stroke-width="2"/>
</svg>
<div class="t" style="left:274.3px;top:1799.3px;font-size:12px;line-height:20px;color:#c9cdd6;transform:translateX(-50%);">8</div>
<div class="t" style="left:811.0px;top:1799.3px;font-size:12px;line-height:20px;color:#c9cdd6;transform:translateX(-50%);">8</div>
<div class="t" style="left:274.3px;top:1841.3px;font-size:12px;line-height:20px;color:#c9cdd6;transform:translateX(-50%);">6</div>
<div class="t" style="left:811.0px;top:1841.3px;font-size:12px;line-height:20px;color:#c9cdd6;transform:translateX(-50%);">6</div>
<div class="t" style="left:274.3px;top:1883.3px;font-size:12px;line-height:20px;color:#c9cdd6;transform:translateX(-50%);">4</div>
<div class="t" style="left:811.0px;top:1883.3px;font-size:12px;line-height:20px;color:#c9cdd6;transform:translateX(-50%);">4</div>
<div class="t" style="left:274.3px;top:1925.2px;font-size:12px;line-height:20px;color:#c9cdd6;transform:translateX(-50%);">2</div>
<div class="t" style="left:811.0px;top:1925.2px;font-size:12px;line-height:20px;color:#c9cdd6;transform:translateX(-50%);">2</div>
<div class="t" style="left:274.3px;top:1967.0px;font-size:12px;line-height:20px;color:#c9cdd6;transform:translateX(-50%);">0</div>
<div class="t" style="left:811.0px;top:1967.0px;font-size:12px;line-height:20px;color:#c9cdd6;transform:translateX(-50%);">0</div>
<div class="t" style="left:356.0px;top:1985.6px;font-size:12px;line-height:20px;color:#5a6478;transform:translateX(-50%);">2月</div>
<div class="t" style="left:892.8px;top:1985.6px;font-size:12px;line-height:20px;color:#5a6478;transform:translateX(-50%);">2月</div>
<div class="t" style="left:444.6px;top:1985.6px;font-size:12px;line-height:20px;color:#5a6478;transform:translateX(-50%);">3月</div>
<div class="t" style="left:981.4px;top:1985.6px;font-size:12px;line-height:20px;color:#5a6478;transform:translateX(-50%);">3月</div>
<div class="t" style="left:533.2px;top:1985.6px;font-size:12px;line-height:20px;color:#5a6478;transform:translateX(-50%);">4月</div>
<div class="t" style="left:1070.0px;top:1985.6px;font-size:12px;line-height:20px;color:#5a6478;transform:translateX(-50%);">4月</div>
<div class="t" style="left:621.8px;top:1985.6px;font-size:12px;line-height:20px;color:#5a6478;transform:translateX(-50%);">5月</div>
<div class="t" style="left:1158.6px;top:1985.6px;font-size:12px;line-height:20px;color:#5a6478;transform:translateX(-50%);">5月</div>
<div class="t" style="left:710.4px;top:1985.6px;font-size:12px;line-height:20px;color:#5a6478;transform:translateX(-50%);">6月</div>
<div class="t" style="left:1247.2px;top:1985.6px;font-size:12px;line-height:20px;color:#5a6478;transform:translateX(-50%);">6月</div>
<div class="t" style="left:453.2px;top:2022.0px;font-size:14px;line-height:22px;color:#6b7488;">教师数值</div>
<div class="t" style="left:553.3px;top:2022.0px;font-size:14px;line-height:22px;color:#6b7488;">全国均值</div>
<div class="t" style="left:918.6px;top:2022.0px;font-size:14px;line-height:22px;color:#6b7488;">讲授语速</div>
<div class="t" style="left:1019.2px;top:2022.0px;font-size:14px;line-height:22px;color:#6b7488;">语言凝练度</div>
<div class="t" style="left:1133.0px;top:2022.0px;font-size:14px;line-height:22px;color:#6b7488;">积极话语频次</div>
</body></html>
